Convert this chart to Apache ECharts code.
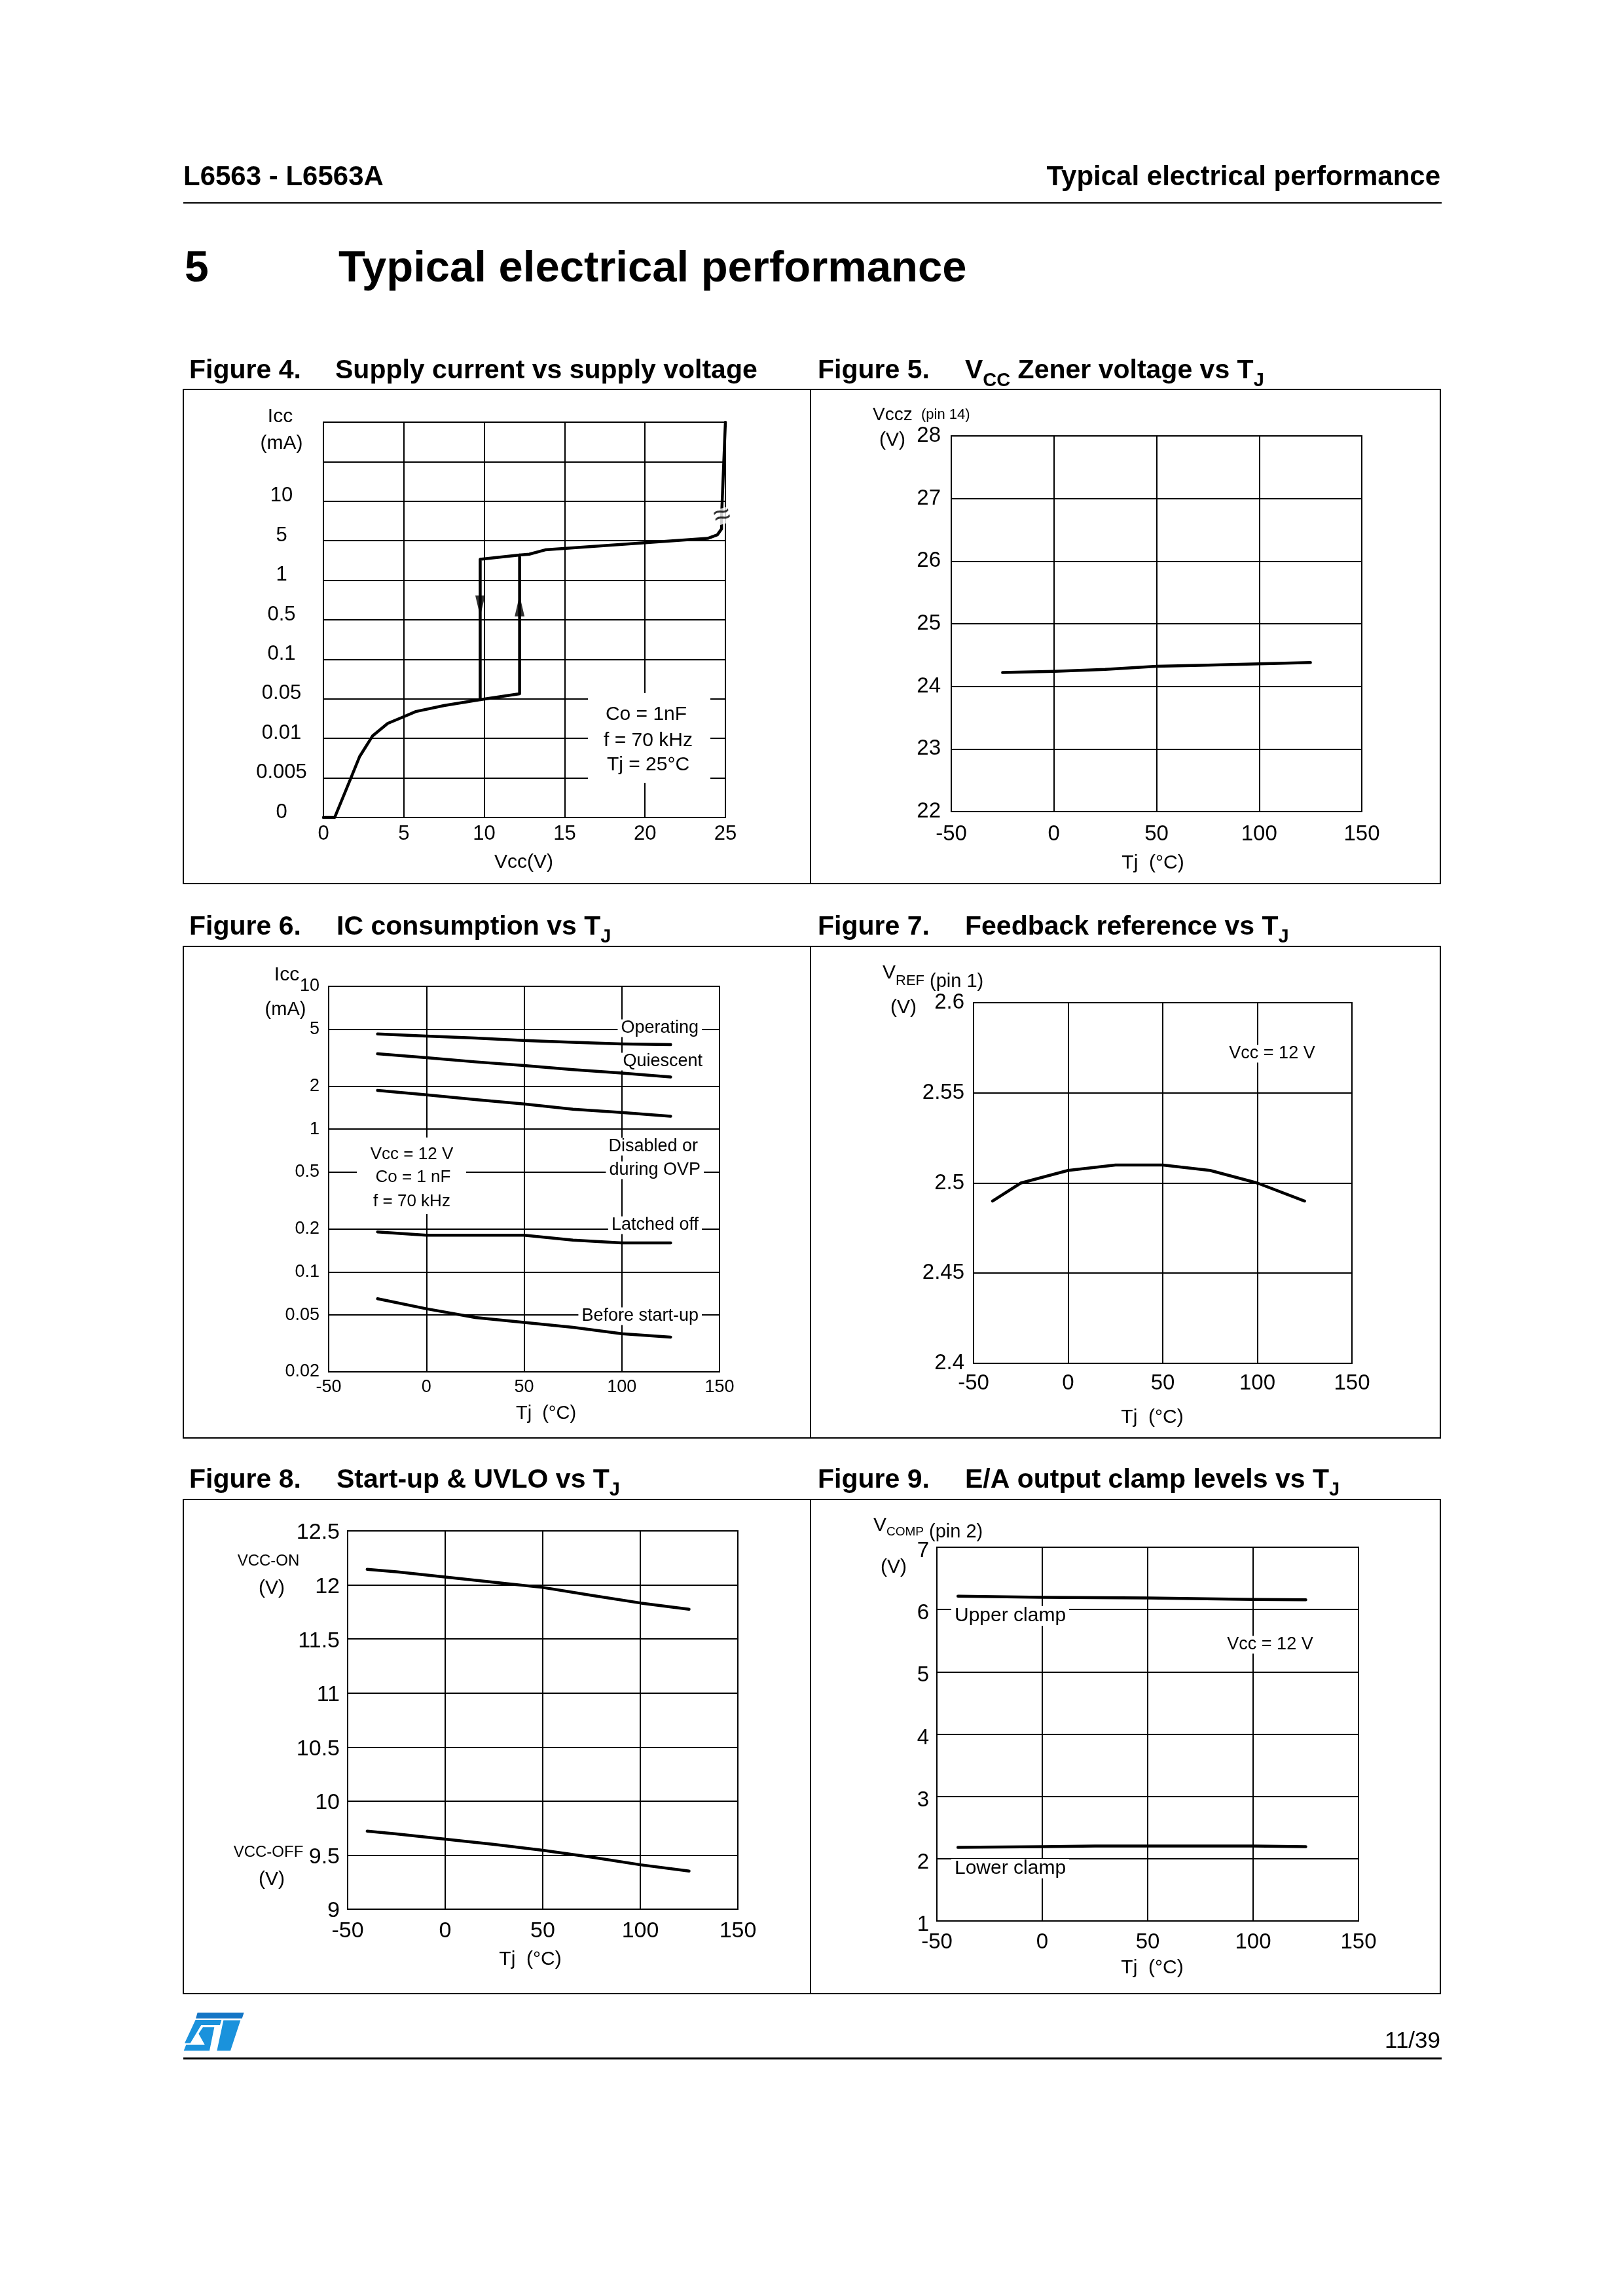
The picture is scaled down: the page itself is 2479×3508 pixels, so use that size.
<!DOCTYPE html>
<html><head><meta charset="utf-8">
<script src="https://cdn.jsdelivr.net/npm/echarts@6/dist/echarts.min.js"></script>
<style>html,body{margin:0;padding:0;background:#fff}#c{width:2479px;height:3508px}</style>
</head><body><div id="c"></div>
<script>
// ---------------- DATA ----------------
// Figure 4: supply current vs supply voltage (y in grid-row units of the pseudo-log scale)
const fig4YLabels = ['0','0.005','0.01','0.05','0.1','0.5','1','5','10','',''];
const fig4Main = [[0,0],[0.7,0],[1.6,0.89],[2.25,1.54],[3.05,2.06],[4.0,2.38],[5.0,2.55],[5.75,2.68],[7.5,2.83],[9.75,2.98],[12.2,3.13],[12.2,6.64],[12.8,6.66],[13.8,6.77],[23.9,7.06],[24.5,7.15],[24.76,7.3],[24.76,7.6],[25,10]];
const fig4Hyst = [[9.75,2.98],[9.75,6.53],[12.2,6.64]];
const fig4ArrowDown = [[9.75,5.35]];
const fig4ArrowUp = [[12.2,5.35]];
const fig4Break = [[24.8,7.62]];
// Figure 5: Vcc zener voltage vs Tj
const fig5T = [-25,0,25,50,75,100,125];
const fig5V = [24.22,24.24,24.27,24.32,24.34,24.36,24.38];
// Figure 6: IC consumption vs Tj (mA)
const fig6T = [-25,0,25,50,75,100,125];
const fig6Operating = [4.64,4.49,4.34,4.18,4.06,3.95,3.91];
const fig6Quiescent = [3.37,3.17,2.96,2.79,2.61,2.47,2.32];
const fig6Disabled = [1.87,1.74,1.61,1.50,1.38,1.31,1.23];
const fig6Latched = [0.191,0.181,0.181,0.181,0.167,0.160,0.160];
const fig6Before = [0.065,0.0553,0.048,0.0444,0.041,0.037,0.035];
const fig6Ticks = [0.02,0.05,0.1,0.2,0.5,1,2,5,10];
// Figure 7: feedback reference vs Tj
const fig7T = [-40,-25,0,25,50,75,100,125];
const fig7V = [2.490,2.500,2.507,2.510,2.510,2.507,2.500,2.490];
// Figure 8: start-up & UVLO vs Tj
const fig8T = [-40,-25,0,25,50,75,100,125];
const fig8On = [12.144,12.121,12.073,12.025,11.977,11.903,11.833,11.775];
const fig8Off = [9.722,9.696,9.648,9.600,9.545,9.481,9.411,9.353];
// Figure 9: E/A output clamp levels vs Tj
const fig9T = [-40,0,25,50,100,125];
const fig9Upper = [6.214,6.197,6.190,6.186,6.163,6.158];
const fig9Lower = [2.181,2.192,2.204,2.204,2.204,2.192];

// ---------------- HELPERS ----------------
const FF = '"Liberation Sans", Arial, Helvetica, sans-serif';
const mctx = document.createElement('canvas').getContext('2d');
function tw(t, size, weight){ mctx.font = (weight||'normal') + ' ' + size + 'px ' + FF; return mctx.measureText(t).width; }
function txt(x, y, t, size, weight, align, extra, z){
  return {type:'text', x:x, y:y, z:(z==null?10:z), silent:true,
    style:Object.assign({text:t, fill:'#000', font:(weight||'normal')+' '+size+'px '+FF,
      align:align||'left', verticalAlign:'middle', textAlign:align||'left', textVerticalAlign:'middle'}, extra||{})};
}
function seq(x, parts, weight){
  const out = []; let cx = x;
  parts.forEach(p => { out.push(txt(cx, p[2], p[0], p[1], weight, 'left')); cx += tw(p[0], p[1], weight); });
  return out;
}
function hline(x1, x2, y, w){ return {type:'line', z:10, silent:true, shape:{x1:x1, y1:y, x2:x2, y2:y}, style:{stroke:'#000', lineWidth:w}}; }
function vline(x, y1, y2, w){ return {type:'line', z:10, silent:true, shape:{x1:x, y1:y1, x2:x, y2:y2}, style:{stroke:'#000', lineWidth:w}}; }
function box(x, y, w, h){ return {type:'rect', z:10, silent:true, shape:{x:x, y:y, width:w, height:h}, style:{fill:'none', stroke:'#000', lineWidth:2}}; }
function white(x, y, w, h){ return {type:'rect', z:1, silent:true, shape:{x:x, y:y, width:w, height:h}, style:{fill:'#fff', stroke:null}}; }
const WB = {backgroundColor:'#fff', padding:[0,5]};
function pairs(xs, ys){ return xs.map((x,i) => [x, ys[i]]); }

// ---------------- GRAPHICS (page furniture & annotations) ----------------
let G = [];
G.push(txt(280, 271, 'L6563 - L6563A', 42, 'bold'));
G.push(txt(2200, 271, 'Typical electrical performance', 42, 'bold', 'right'));
G.push(hline(280, 2202, 310, 2));
G.push(txt(282, 412, '5', 66, 'bold'));
G.push(txt(517, 412, 'Typical electrical performance', 67, 'bold'));

function caption(xf, xt, yc, fig, parts){
  G.push(txt(xf, yc, fig, 41, 'bold'));
  G = G.concat(seq(xt, parts.map(p => p[1] ? [p[0], 29, yc + 15] : [p[0], 41, yc]), 'bold'));
}
caption(289, 512, 567, 'Figure 4.', [['Supply current vs supply voltage']]);
caption(1249, 1474, 567, 'Figure 5.', [['V'],['CC',1],[' Zener voltage vs T'],['J',1]]);
caption(289, 514, 1417, 'Figure 6.', [['IC consumption vs T'],['J',1]]);
caption(1249, 1474, 1417, 'Figure 7.', [['Feedback reference vs T'],['J',1]]);
caption(289, 514, 2262, 'Figure 8.', [['Start-up & UVLO vs T'],['J',1]]);
caption(1249, 1474, 2262, 'Figure 9.', [['E/A output clamp levels vs T'],['J',1]]);

G.push(box(280, 595, 1920, 755)); G.push(vline(1238, 595, 1350, 2));
G.push(box(280, 1446, 1920, 751)); G.push(vline(1238, 1446, 2197, 2));
G.push(box(280, 2291, 1920, 755)); G.push(vline(1238, 2291, 3046, 2));

// Figure 4 texts
G.push(txt(428, 637, 'Icc', 30, 'normal', 'center'));
G.push(txt(430, 678, '(mA)', 30, 'normal', 'center'));
G.push(txt(800, 1318, 'Vcc(V)', 30, 'normal', 'center'));
G.push(white(898, 1059, 187, 137));
G.push(txt(987, 1092, 'Co = 1nF', 30, 'normal', 'center'));
G.push(txt(990, 1132, 'f = 70 kHz', 30, 'normal', 'center'));
G.push(txt(990, 1169, 'Tj = 25°C', 30, 'normal', 'center'));
// Figure 5 texts
G.push(txt(1333, 634, 'Vccz', 28));
G.push(txt(1407, 634, '(pin 14)', 22));
G.push(txt(1343, 673, '(V)', 30));
G.push(txt(1761, 1319, 'Tj  (°C)', 30, 'normal', 'center'));
// Figure 6 texts
G.push(txt(438, 1490, 'Icc', 30, 'normal', 'center'));
G.push(txt(436, 1543, '(mA)', 29, 'normal', 'center'));
G.push(txt(1072, 1571, 'Operating', 27, 'normal', 'right', WB, 1));
G.push(txt(1078, 1622, 'Quiescent', 27, 'normal', 'right', WB, 1));
G.push(txt(1071, 1752, 'Disabled or', 27, 'normal', 'right', WB, 1));
G.push(txt(1075, 1788, 'during OVP', 27, 'normal', 'right', WB, 1));
G.push(txt(1072, 1872, 'Latched off', 27, 'normal', 'right', WB, 1));
G.push(txt(1072, 2011, 'Before start-up', 27, 'normal', 'right', WB, 1));
G.push(white(545, 1738, 167, 117));
G.push(txt(629, 1764, 'Vcc = 12 V', 26, 'normal', 'center'));
G.push(txt(631, 1799, 'Co = 1 nF', 26, 'normal', 'center'));
G.push(txt(629, 1836, 'f = 70 kHz', 26, 'normal', 'center'));
G.push(txt(834, 2160, 'Tj  (°C)', 29, 'normal', 'center'));
// Figure 7 texts
G = G.concat(seq(1348, [['V',30,1487],['REF',22,1499],[' (pin 1)',29,1500]]));
G.push(txt(1360, 1540, '(V)', 30));
G.push(txt(1943, 1610, 'Vcc = 12 V', 27, 'normal', 'center', WB, 1));
G.push(txt(1760, 2166, 'Tj  (°C)', 30, 'normal', 'center'));
// Figure 8 texts
G.push(txt(410, 2385, 'VCC-ON', 24, 'normal', 'center'));
G.push(txt(415, 2427, '(V)', 30, 'normal', 'center'));
G.push(txt(410, 2830, 'VCC-OFF', 24, 'normal', 'center'));
G.push(txt(415, 2872, '(V)', 30, 'normal', 'center'));
G.push(txt(810, 2994, 'Tj  (°C)', 30, 'normal', 'center'));
// Figure 9 texts
G = G.concat(seq(1334, [['V',30,2331],['COMP',19,2341],[' (pin 2)',29,2341]]));
G.push(txt(1365, 2395, '(V)', 30, 'normal', 'center'));
G.push(txt(1453, 2469, 'Upper clamp', 30, 'normal', 'left', {backgroundColor:'#fff', padding:[0,5]}, 1));
G.push(txt(1453, 2855, 'Lower clamp', 30, 'normal', 'left', {backgroundColor:'#fff', padding:[0,5]}, 1));
G.push(txt(1940, 2513, 'Vcc = 12 V', 27, 'normal', 'center', WB, 1));
G.push(txt(1760, 3007, 'Tj  (°C)', 30, 'normal', 'center'));

// Footer
function poly(pts, color){ return {type:'polygon', z:10, silent:true, shape:{points:pts.map(p => [270 + p[0]/3, 3020 + p[1]/3])}, style:{fill:color}}; }
G.push(poly([[95,165],[308,165],[299,192],[87,192]], '#1476c6'));
G.push(poly([[86,198],[205,198],[198,222],[112,222],[62,305],[36,305]], '#1a92dc'));
G.push(poly([[120,232],[172,232],[150,340],[32,340],[43,312],[128,312],[100,262]], '#1a92dc'));
G.push(poly([[214,200],[292,200],[246,340],[184,340]], '#1a92dc'));
G.push(txt(2200, 3119, '11/39', 35, 'normal', 'right'));
G.push(hline(280, 2202, 3145, 3));

// ---------------- AXES ----------------
const GRID = {show:true, borderColor:'#000', borderWidth:2, backgroundColor:'transparent'};
const grids = [
  Object.assign({left:494, top:645, width:614, height:604}, GRID),
  Object.assign({left:1453, top:666, width:627, height:574}, GRID),
  Object.assign({left:502, top:1507, width:597, height:589}, GRID),
  Object.assign({left:1487, top:1532, width:578, height:551}, GRID),
  Object.assign({left:531, top:2339, width:596, height:578}, GRID),
  Object.assign({left:1431, top:2364, width:644, height:571}, GRID)
];
const SPL = {show:true, lineStyle:{color:'#000', width:2}};
function ax(gi, min, max, interval, fs, margin, extra, labelExtra){
  return Object.assign({type:'value', gridIndex:gi, min:min, max:max, interval:interval,
    axisLine:{show:false}, axisTick:{show:false}, splitLine:SPL,
    axisLabel:Object.assign({fontFamily:FF, fontSize:fs, color:'#000', margin:margin}, labelExtra||{})}, extra||{});
}
const xAxes = [
  ax(0, 0, 25, 5, 31, 10),
  ax(1, -50, 150, 50, 33, 18),
  ax(2, -50, 150, 50, 27, 10),
  ax(3, -50, 150, 50, 33, 14),
  ax(4, -50, 150, 50, 34, 17),
  ax(5, -50, 150, 50, 33, 16)
];
const yAxes = [
  ax(0, 0, 10, 1, 31, 64, null, {align:'center', verticalAlign:'bottom', lineHeight:16, formatter:v => fig4YLabels[Math.round(v)]}),
  ax(1, 22, 28, 1, 33, 16),
  {type:'log', logBase:10, gridIndex:2, min:0.02, max:10,
    axisLine:{show:false}, axisTick:{show:false, customValues:fig6Ticks}, splitLine:SPL,
    axisLabel:{fontFamily:FF, fontSize:27, color:'#000', margin:14, customValues:fig6Ticks, formatter:v => String(+Number(v).toPrecision(2))}},
  ax(3, 2.4, 2.6, 0.05, 33, 14),
  ax(4, 9, 12.5, 0.5, 34, 12, null, {verticalAlign:'top', lineHeight:6}),
  ax(5, 1, 7, 1, 33, 12, null, {verticalAlign:'top', lineHeight:12})
];

// ---------------- SERIES ----------------
function ln(gi, data, w){ return {type:'line', xAxisIndex:gi, yAxisIndex:gi, data:data, showSymbol:false, symbol:'none', silent:true, z:2,
  lineStyle:{color:'#000', width:w||4.5, cap:'round', join:'round'}}; }
const series = [
  ln(0, fig4Main, 4.5),
  ln(0, fig4Hyst, 4.5),
  {type:'scatter', xAxisIndex:0, yAxisIndex:0, data:fig4ArrowDown, symbol:'triangle', symbolSize:[15,32], symbolRotate:180, itemStyle:{color:'#000'}, silent:true, z:3},
  {type:'scatter', xAxisIndex:0, yAxisIndex:0, data:fig4ArrowUp, symbol:'triangle', symbolSize:[15,32], itemStyle:{color:'#000'}, silent:true, z:3},
  {type:'scatter', xAxisIndex:0, yAxisIndex:0, data:fig4Break, symbolSize:0, silent:true, z:5,
    label:{show:true, position:'inside', formatter:'\u2248', fontFamily:FF, fontSize:46, color:'#000', backgroundColor:'#fff', lineHeight:24, padding:[0,2], rotate:15}},
  ln(1, pairs(fig5T, fig5V)),
  ln(2, pairs(fig6T, fig6Operating)),
  ln(2, pairs(fig6T, fig6Quiescent)),
  ln(2, pairs(fig6T, fig6Disabled)),
  ln(2, pairs(fig6T, fig6Latched)),
  ln(2, pairs(fig6T, fig6Before)),
  ln(3, pairs(fig7T, fig7V)),
  ln(4, pairs(fig8T, fig8On)),
  ln(4, pairs(fig8T, fig8Off)),
  ln(5, pairs(fig9T, fig9Upper)),
  ln(5, pairs(fig9T, fig9Lower))
];

const chart = echarts.init(document.getElementById('c'), null, {renderer:'canvas', width:2479, height:3508});
chart.setOption({
  animation:false,
  backgroundColor:'#fff',
  textStyle:{fontFamily:FF},
  grid:grids, xAxis:xAxes, yAxis:yAxes, series:series,
  graphic:{elements:G}
});
</script></body></html>
